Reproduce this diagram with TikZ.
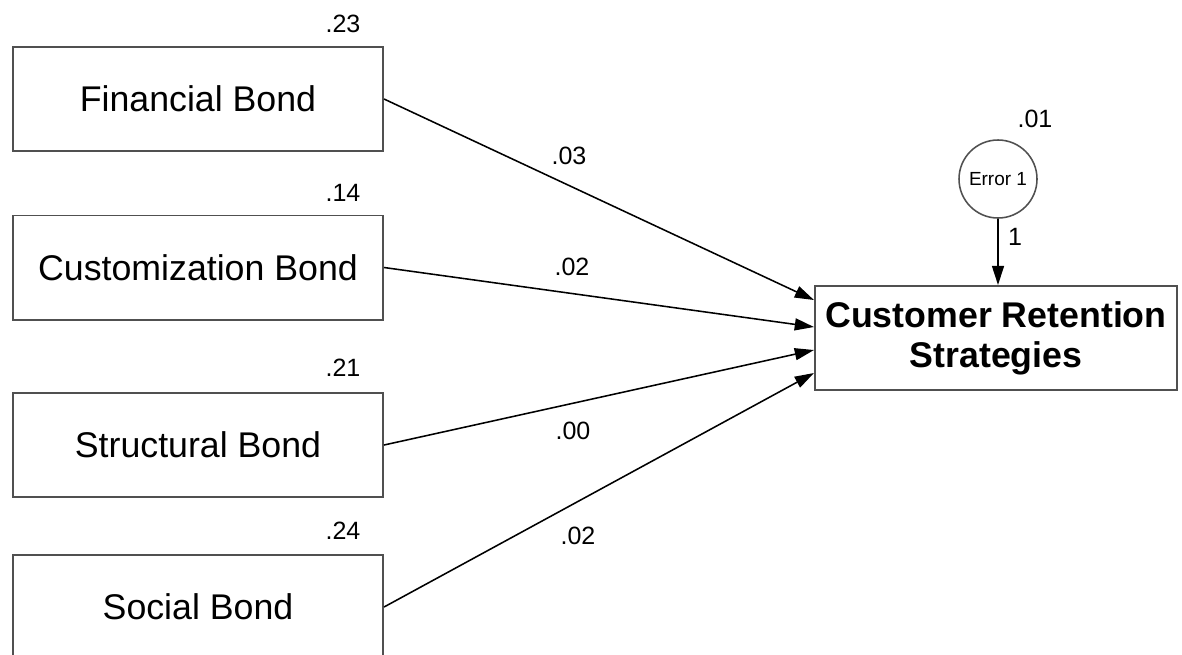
\documentclass[tikz,border=0pt]{standalone}
\usepackage{fontspec}
\setmainfont{Liberation Sans}
\usepackage{tikz}
\usetikzlibrary{arrows.meta, calc, positioning}
\definecolor{boxedge}{RGB}{80,80,80}
\tikzset{
    bond box/.style    = {draw = boxedge, line width = 1.4pt, minimum width = 9.25cm, minimum height = 2.6cm, inner sep = 0pt, font = \fontsize{25.4}{30}\selectfont},
    outcome box/.style = {draw = boxedge, line width = 1.4pt, minimum width = 9.05cm, minimum height = 2.6cm, inner sep = 0pt, align = center, font = \fontsize{25.4}{28.5}\selectfont\bfseries},
    error node/.style  = {draw = boxedge, circle, line width = 1.1pt, minimum size = 1.95cm, inner sep = 0pt, font = \fontsize{13.5}{15}\selectfont},
    weight/.style      = {font = \fontsize{17.8}{20}\selectfont, inner sep = 0pt},
    path arrow/.style  = {draw = black, line width = 1.1pt, -{Triangle[length=4.8mm, width=3mm]}}
}

\begin{document}
\begin{tikzpicture}[x=0.025cm, y=-0.025cm]
		\clip (0,0) rectangle (1182,654);
		\fill[white] (0,0) rectangle (1182,654);

		% exogenous bonds
		\node[bond box] (fin)   at (198,99)    {Financial Bond};
		\node[bond box] (cust)  at (198,267.5) {Customization Bond};
		\node[bond box] (struc) at (198,445)   {Structural Bond};
		\node[bond box] (soc)   at (198,607)   {Social Bond};

		% outcome and its error term
		\node[outcome box] (crs) at (996,338) {Customer Retention\\Strategies};
		\node[error node]  (err) at (998,179) {Error 1};

		\draw[path arrow] (fin.east)   -- ($(crs.west)+(0,-38)$);
		\draw[path arrow] (cust.east)  -- ($(crs.west)+(0,-11)$);
		\draw[path arrow] (struc.east) -- ($(crs.west)+(0,12)$);
		\draw[path arrow] (soc.east)   -- ($(crs.west)+(0,35)$);
		\draw[path arrow] (err.south)  -- (err.south |- crs.north);

		% variances
		\node[weight] (vfin)   at (343,24)  {.23};
		\node[weight] (vcust)  at (343,193) {.14};
		\node[weight] (vstruc) at (343,368) {.21};
		\node[weight] (vsoc)   at (343,531) {.24};
		\node[weight] (verr)   at (1035,119) {.01};

		% path weights
		\node[weight] (wfin)   at (569,156) {.03};
		\node[weight] (wcust)  at (572,267) {.02};
		\node[weight] (wstruc) at (573,431) {.00};
		\node[weight] (wsoc)   at (578,536) {.02};
		\node[weight] (werr)   at (1015,237) {1};
	\end{tikzpicture}
\end{document}
